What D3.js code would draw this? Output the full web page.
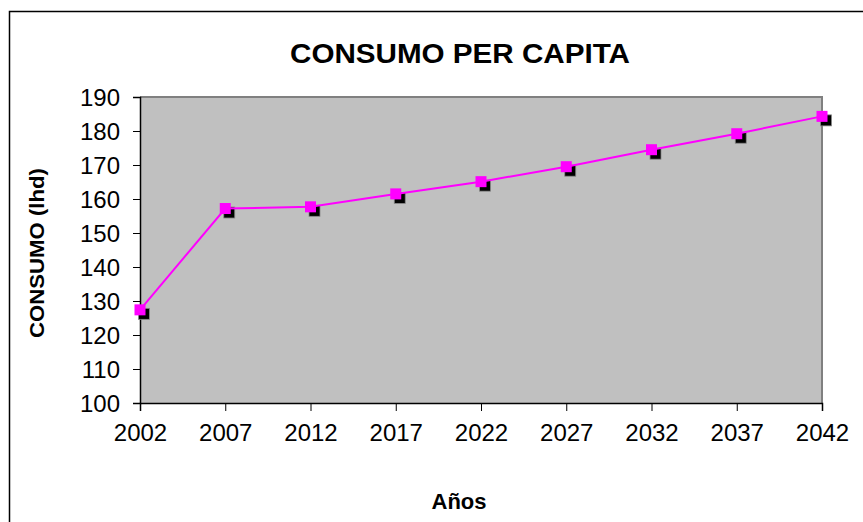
<!DOCTYPE html>
<html>
<head>
<meta charset="utf-8">
<script src="https://cdn.jsdelivr.net/npm/d3@7"></script>
<style>
  body { margin: 0; background: #fff; }
  svg { display: block; font-family: "Liberation Sans", Arial, sans-serif; }
</style>
</head>
<body>
<div id="chart"></div>
<script>
// data
var years = ["2002", "2007", "2012", "2017", "2022", "2027", "2032", "2037", "2042"];
var consumo = [127.4, 157.2, 157.7, 161.5, 165.1, 169.5, 174.5, 179.2, 184.3];
var yTicks = [100, 110, 120, 130, 140, 150, 160, 170, 180, 190];

var svgWidth = 863, svgHeight = 522;
var margin = { top: 97, right: 41, bottom: 119, left: 140 };
var width = svgWidth - margin.left - margin.right,
    height = svgHeight - margin.top - margin.bottom;

var svg = d3.select("#chart").append("svg")
    .attr("width", svgWidth)
    .attr("height", svgHeight);

// outer chart border (only left/top are visible in the frame)
svg.append("rect")
    .attr("x", 9.5).attr("y", 11.5)
    .attr("width", 900).attr("height", 600)
    .attr("fill", "none")
    .attr("stroke", "#000")
    .attr("stroke-width", 1.5);

var x = d3.scalePoint().domain(years).range([0, width]);
var y = d3.scaleLinear().domain([100, 190]).range([height, 0]);

var g = svg.append("g")
    .attr("transform", "translate(" + margin.left + "," + margin.top + ")");

g.append("rect")
    .attr("width", width)
    .attr("height", height)
    .attr("fill", "#c0c0c0");

// top and right edges of the plot area
g.append("path")
    .attr("d", "M0,0H" + width + "V" + height)
    .attr("fill", "none")
    .attr("stroke", "#808080")
    .attr("stroke-width", 2);

var yAxis = d3.axisLeft(y).tickValues(yTicks).tickSize(7).tickPadding(13);
var xAxis = d3.axisBottom(x).tickSize(8).tickPadding(13);

var gy = g.append("g").attr("class", "axis axis--y").call(yAxis);
var gx = g.append("g").attr("class", "axis axis--x")
    .attr("transform", "translate(0," + height + ")")
    .call(xAxis);

[gx, gy].forEach(function (a) {
    a.select(".domain").attr("stroke", "#000").attr("stroke-width", 1.5);
    a.selectAll(".tick line").attr("stroke", "#000");
    a.selectAll(".tick text")
        .attr("fill", "#000")
        .style("font-size", "24px");
});
gy.selectAll(".tick text").attr("dy", "0.35em");
gx.selectAll(".tick text").attr("dy", "0.72em");

var line = d3.line()
    .x(function (d, i) { return x(years[i]); })
    .y(function (d) { return y(d); });

var sz = 11, off = 4;
// marker shadows
g.selectAll(".shadow")
    .data(consumo)
    .enter().append("rect")
    .attr("class", "shadow")
    .attr("x", function (d, i) { return x(years[i]) - sz / 2 + off; })
    .attr("y", function (d) { return y(d) - sz / 2 + off; })
    .attr("width", sz).attr("height", sz)
    .attr("fill", "#000")
    .attr("stroke", "#888")
    .attr("stroke-width", 0.8);

g.append("path")
    .datum(consumo)
    .attr("d", line)
    .attr("fill", "none")
    .attr("stroke", "#ff00ff")
    .attr("stroke-width", 2);

g.selectAll(".marker")
    .data(consumo)
    .enter().append("rect")
    .attr("class", "marker")
    .attr("x", function (d, i) { return x(years[i]) - sz / 2; })
    .attr("y", function (d) { return y(d) - sz / 2; })
    .attr("width", sz).attr("height", sz)
    .attr("fill", "#ff00ff");

// titles
svg.append("text")
    .attr("x", 460).attr("y", 63)
    .attr("text-anchor", "middle")
    .attr("textLength", 340).attr("lengthAdjust", "spacingAndGlyphs")
    .style("font-size", "27.5px").style("font-weight", "bold")
    .text("CONSUMO PER CAPITA");

svg.append("text")
    .attr("transform", "translate(44,253) rotate(-90)")
    .attr("text-anchor", "middle")
    .attr("textLength", 170).attr("lengthAdjust", "spacingAndGlyphs")
    .style("font-size", "21px").style("font-weight", "bold")
    .text("CONSUMO (lhd)");

svg.append("text")
    .attr("x", 459).attr("y", 509)
    .attr("text-anchor", "middle")
    .style("font-size", "22px").style("font-weight", "bold")
    .text("Años");
</script>
</body>
</html>
